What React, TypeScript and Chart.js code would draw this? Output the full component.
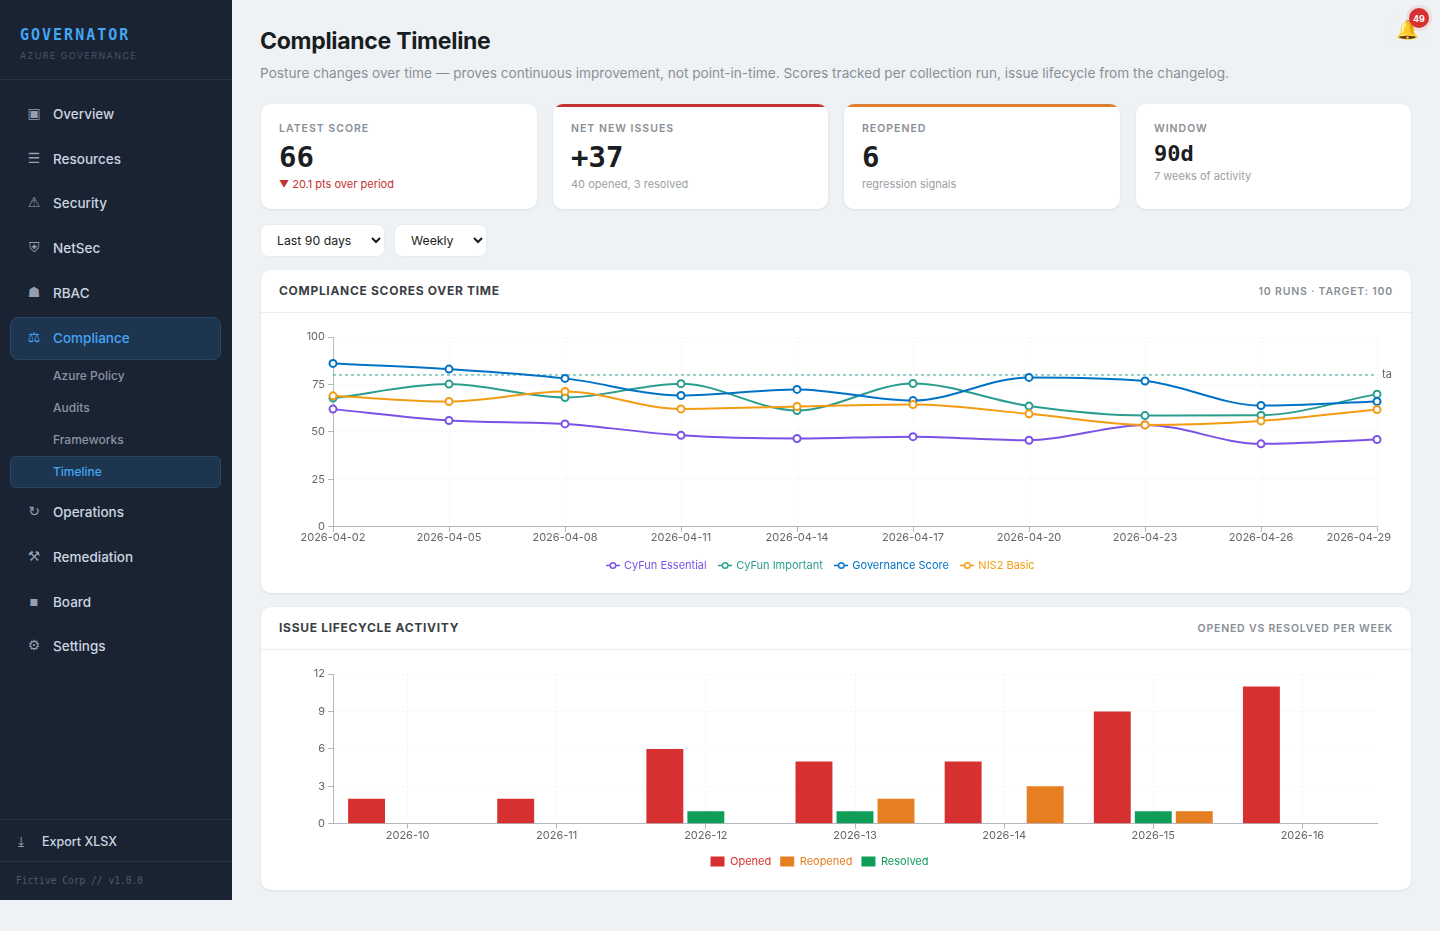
import React, { useEffect, useRef } from 'react';
import { Chart, registerables } from 'chart.js';

Chart.register(...registerables);

const runDates = ['2026-04-02', '2026-04-05', '2026-04-08', '2026-04-11', '2026-04-14', '2026-04-17', '2026-04-20', '2026-04-23', '2026-04-26', '2026-04-29'];
const cyfunEssential = [62, 56, 54.2, 48.2, 46.5, 47.5, 45.6, 53.7, 43.7, 46];
const cyfunImportant = [67.8, 75.2, 68.1, 75.4, 61.3, 75.5, 63.6, 58.6, 58.8, 69.9];
const governanceScore = [86.1, 83.1, 78.2, 69.2, 72.4, 66.5, 78.7, 76.8, 63.9, 66];
const nis2Basic = [69, 66, 71.3, 62.1, 63.4, 64.4, 59.5, 53.7, 55.8, 61.8];
const targetLine = [80, 80, 80, 80, 80, 80, 80, 80, 80, 80];
const scoreTicks = [0, 25, 50, 75, 100];

const weeks = ['2026-10', '2026-11', '2026-12', '2026-13', '2026-14', '2026-15', '2026-16'];
const opened = [2, 2, 6, 5, 5, 9, 11];
const resolved = [0, 0, 1, 1, 0, 1, 0];
const reopened = [0, 0, 0, 2, 3, 1, 0];

const navTop = [
  { icon: '▣', label: 'Overview', y: 114 },
  { icon: '☰', label: 'Resources', y: 159 },
  { icon: '⚠', label: 'Security', y: 203 },
  { icon: '⛨', label: 'NetSec', y: 248 },
  { icon: '☗', label: 'RBAC', y: 293 },
];
const navSub = [
  { label: 'Azure Policy', y: 376 },
  { label: 'Audits', y: 408 },
  { label: 'Frameworks', y: 440 },
];
const navBottom = [
  { icon: '↻', label: 'Operations', y: 512 },
  { icon: '⚒', label: 'Remediation', y: 557 },
  { icon: '▪', label: 'Board', y: 602 },
  { icon: '⚙', label: 'Settings', y: 646 },
];

const INTER = 'Inter, sans-serif';
const MONO = '"DejaVu Sans Mono", monospace';
const PURPLE = '#7b52e6';
const TEAL = '#2a9d8f';
const BLUE = '#0072c6';
const AMBER = '#f39c12';
const RED = '#d63031';
const ORANGE = '#e67e22';
const GREEN = '#0f9d58';
const AXIS = '#b4b8be';
const GRID = '#f3f5f7';
const TICK_TEXT = '#666';

// icon with line through a hollow dot, for the line chart legend
function lineIcon(color: string) {
  const c = document.createElement('canvas');
  c.width = 14;
  c.height = 9;
  const ctx = c.getContext('2d')!;
  ctx.strokeStyle = color;
  ctx.lineWidth = 1.5;
  ctx.beginPath();
  ctx.moveTo(0, 4.5);
  ctx.lineTo(14, 4.5);
  ctx.stroke();
  ctx.fillStyle = '#fff';
  ctx.beginPath();
  ctx.arc(7, 4.5, 2.75, 0, Math.PI * 2);
  ctx.fill();
  ctx.stroke();
  return c;
}

const tickFont = { family: 'Inter', size: 11 };

function axisGrid(tickLength = 5) {
  return { color: GRID, tickColor: AXIS, tickLength, offset: false };
}

const axisBorder = { color: AXIS, dash: [2, 2], width: 1 };

const fixY = (width: number) => (scale: any) => {
  scale.width = width;
  scale.paddingTop = 0;
  scale.paddingBottom = 0;
};

const fixX = (extra: number) => (scale: any) => {
  scale.paddingLeft = 0;
  scale.paddingRight = 0;
  scale.height += extra;
};

const SCORE_LEFT = 265;
const BARS_LEFT = 262;
const CANVAS_RIGHT = 1393;

const lineOverlay = {
  id: 'lineOverlay',
  beforeDraw(chart: any) {
    // last date label stays inside the canvas, right aligned
    const items = chart.scales.x.getLabelItems(chart.chartArea);
    const last = items[items.length - 1];
    last.options.textAlign = 'right';
    last.options.translation[0] = chart.width - 2;
  },
  afterDraw(chart: any) {
    const { ctx, scales } = chart;
    ctx.save();
    ctx.font = '11px Inter';
    ctx.fillStyle = TICK_TEXT;
    ctx.textBaseline = 'middle';
    ctx.fillText('ta', chart.chartArea.right + 5, scales.y.getPixelForValue(targetLine[0]));
    ctx.restore();
  },
};

const ScoreChart = () => {
  const canvasRef = useRef<HTMLCanvasElement | null>(null);

  useEffect(() => {
    if (!canvasRef.current) return;
    const series = [
      { label: 'CyFun Essential', data: cyfunEssential, color: PURPLE },
      { label: 'CyFun Important', data: cyfunImportant, color: TEAL },
      { label: 'Governance Score', data: governanceScore, color: BLUE },
      { label: 'NIS2 Basic', data: nis2Basic, color: AMBER },
    ];
    const chart = new Chart(canvasRef.current, {
      type: 'line',
      data: {
        labels: runDates,
        datasets: [
          ...series.map((s, i) => ({
            label: s.label,
            data: s.data,
            borderColor: s.color,
            backgroundColor: '#fff',
            borderWidth: 2,
            pointRadius: 3.5,
            pointBorderWidth: 2,
            pointBackgroundColor: '#fff',
            pointBorderColor: s.color,
            cubicInterpolationMode: 'monotone',
            order: series.length - i,
          })),
          {
            label: 'target',
            data: targetLine,
            borderColor: TEAL,
            borderWidth: 1,
            borderDash: [3, 3],
            pointRadius: 0,
            tension: 0,
            order: 10,
          },
        ],
      },
      options: {
        responsive: false,
        animation: false,
        layout: { padding: { top: 15, right: 16, bottom: 3, left: 0 } },
        scales: {
          x: {
            grid: axisGrid(),
            border: axisBorder,
            afterFit: fixX(4),
            ticks: { color: TICK_TEXT, font: tickFont, autoSkip: false, maxRotation: 0, padding: -1 },
          },
          y: {
            min: 0,
            max: 100,
            grid: axisGrid(),
            border: axisBorder,
            afterFit: fixY(333 - SCORE_LEFT),
            afterBuildTicks: (scale: any) => {
              scale.ticks = scoreTicks.map((value) => ({ value }));
            },
            ticks: { color: TICK_TEXT, font: tickFont, padding: 3 },
          },
        },
        plugins: {
          tooltip: { enabled: false },
          legend: {
            position: 'bottom',
            labels: {
              usePointStyle: true,
              pointStyleWidth: 11,
              padding: 13,
              font: tickFont,
              generateLabels: () =>
                series.map((s, i) => ({
                  text: s.label,
                  fontColor: s.color,
                  pointStyle: lineIcon(s.color),
                  datasetIndex: i,
                  lineWidth: 0,
                })),
            },
          },
        },
      } as any,
      plugins: [lineOverlay],
    });
    return () => chart.destroy();
  }, []);

  return (
    <canvas
      ref={canvasRef}
      width={CANVAS_RIGHT - SCORE_LEFT}
      height={262}
      style={{ position: 'absolute', left: SCORE_LEFT, top: 322 }}
    />
  );
};

const LifecycleChart = () => {
  const canvasRef = useRef<HTMLCanvasElement | null>(null);

  useEffect(() => {
    if (!canvasRef.current) return;
    const chart = new Chart(canvasRef.current, {
      type: 'bar',
      data: {
        labels: weeks,
        datasets: [
          { label: 'Opened', data: opened, backgroundColor: RED },
          { label: 'Resolved', data: resolved, backgroundColor: GREEN },
          { label: 'Reopened', data: reopened, backgroundColor: ORANGE },
        ],
      },
      options: {
        responsive: false,
        animation: false,
        layout: { padding: { top: 15, right: 16, bottom: 4, left: 0 } },
        datasets: { bar: { categoryPercentage: 0.825, barPercentage: 0.9 } },
        scales: {
          x: {
            grid: axisGrid(),
            border: axisBorder,
            afterFit: fixX(5),
            ticks: { color: TICK_TEXT, font: tickFont, maxRotation: 0, padding: 0 },
          },
          y: {
            min: 0,
            max: 12,
            grid: axisGrid(),
            border: axisBorder,
            afterFit: fixY(333 - BARS_LEFT),
            ticks: { color: TICK_TEXT, font: tickFont, stepSize: 3, padding: 3 },
          },
        },
        plugins: {
          tooltip: { enabled: false },
          legend: {
            position: 'bottom',
            labels: {
              boxWidth: 14,
              boxHeight: 10,
              padding: 9,
              font: tickFont,
              sort: (a: any, b: any) => a.text.localeCompare(b.text),
              generateLabels: (c: any) =>
                c.data.datasets.map((d: any, i: number) => ({
                  text: d.label,
                  fontColor: d.backgroundColor,
                  fillStyle: d.backgroundColor,
                  strokeStyle: d.backgroundColor,
                  lineWidth: 0,
                  datasetIndex: i,
                })),
            },
          },
        },
      } as any,
    });
    return () => chart.destroy();
  }, []);

  return (
    <canvas
      ref={canvasRef}
      width={CANVAS_RIGHT - BARS_LEFT}
      height={222}
      style={{ position: 'absolute', left: BARS_LEFT, top: 659 }}
    />
  );
};

// absolutely placed text, y is the vertical centre
const T = ({ x, y, right, style, children }: any) => (
  <div
    style={{
      position: 'absolute',
      left: x,
      right,
      top: y,
      transform: 'translateY(-50%)',
      whiteSpace: 'nowrap',
      ...style,
    }}
  >
    {children}
  </div>
);

const Box = ({ x, y, w, h, style, children }: any) => (
  <div style={{ position: 'absolute', left: x, top: y, width: w, height: h, boxSizing: 'border-box', ...style }}>{children}</div>
);

const NavItem = ({ icon, label, y, color = '#cbd5e0', iconColor = '#94a0b0' }: any) => (
  <>
    <T x={24} y={y - 1} style={{ width: 20, textAlign: 'center', fontFamily: '"DejaVu Sans"', fontSize: 14, color: iconColor }}>
      {icon}
    </T>
    <T x={53} y={y} style={{ fontSize: 13.5, fontWeight: 500, color }}>
      {label}
    </T>
  </>
);

const Sidebar = () => (
  <Box x={0} y={0} w={232} h={900} style={{ background: '#1a2332' }}>
    <T x={20} y={35} style={{ fontFamily: MONO, fontWeight: 700, fontSize: 15, letterSpacing: 2, color: '#42a5f5' }}>
      GOVERNATOR
    </T>
    <T x={20} y={54.5} style={{ fontSize: 9, letterSpacing: 1.4, color: '#4a5568' }}>
      AZURE GOVERNANCE
    </T>
    <Box x={0} y={79} w={232} h={1} style={{ background: '#283343' }} />
    {navTop.map((n) => (
      <NavItem key={n.label} {...n} />
    ))}
    <Box x={10} y={317} w={211} h={43} style={{ background: '#1e3550', border: '1px solid #28466a', borderRadius: 8 }} />
    <NavItem icon="⚖" label="Compliance" y={338} color="#42a5f5" iconColor="#42a5f5" />
    {navSub.map((n) => (
      <T key={n.label} x={53} y={n.y - 1} style={{ fontSize: 12, fontWeight: 500, color: '#8a94a3' }}>
        {n.label}
      </T>
    ))}
    <Box x={10} y={456} w={211} h={32} style={{ background: '#1e3550', border: '1px solid #28466a', borderRadius: 6 }} />
    <T x={53} y={471} style={{ fontSize: 12, fontWeight: 500, color: '#42a5f5' }}>
      Timeline
    </T>
    {navBottom.map((n) => (
      <NavItem key={n.label} {...n} />
    ))}
    <Box x={0} y={819} w={232} h={1} style={{ background: '#283343' }} />
    <T x={18} y={841} style={{ fontFamily: '"DejaVu Sans"', fontSize: 14, color: '#94a0b0' }}>
      ⤓
    </T>
    <T x={42} y={840.5} style={{ fontSize: 12.5, fontWeight: 500, color: '#cbd5e0' }}>
      Export XLSX
    </T>
    <Box x={0} y={861} w={232} h={1} style={{ background: '#283343' }} />
    <T x={16} y={880} style={{ fontFamily: MONO, fontSize: 9.6, color: '#4f5a6b' }}>
      Fictive Corp // v1.0.0
    </T>
  </Box>
);

const cardStyle = {
  background: '#fff',
  borderRadius: 10,
  boxShadow: '0 1px 3px rgba(0,0,0,0.08)',
  overflow: 'hidden',
};

const Kpi = ({ x, w, top, label, value, valueSize = 29, valueY = 157, sub, subY = 184, subColor = '#9a9fa6' }: any) => (
  <>
    <Box x={x} y={104} w={w} h={105} style={cardStyle}>
      {top && <div style={{ height: 3, background: top }} />}
    </Box>
    <T x={x + 18} y={128} style={{ fontSize: 10.5, fontWeight: 600, letterSpacing: 1, color: '#8a8f96' }}>
      {label}
    </T>
    <T x={x + 18} y={valueY} style={{ fontFamily: MONO, fontWeight: 700, fontSize: valueSize, color: '#1a1d21' }}>
      {value}
    </T>
    <T x={x + 18} y={subY} style={{ fontSize: 11, color: subColor }}>
      {sub}
    </T>
  </>
);

const selectStyle = {
  position: 'absolute',
  top: 224,
  height: 33,
  padding: '0 6px 0 12px',
  fontFamily: INTER,
  fontSize: 12.3,
  color: '#1a1d21',
  background: '#fff',
  border: '1px solid #e8ebef',
  borderRadius: 8,
} as React.CSSProperties;

const ChartCard = ({ y, h, title, note }: any) => (
  <Box x={261} y={y} w={1150} h={h} style={cardStyle}>
    <Box x={0} y={42} w={1150} h={1} style={{ background: '#eceff2' }} />
    <T x={18} y={20} style={{ fontSize: 12, fontWeight: 700, letterSpacing: 0.7, color: '#3a3f46' }}>
      {title}
    </T>
    <T right={18} y={21} style={{ fontSize: 10.5, fontWeight: 600, letterSpacing: 0.8, color: '#8a8f96' }}>
      {note}
    </T>
  </Box>
);

export default function App() {
  return (
    <div style={{ position: 'fixed', inset: 0, background: '#eff2f5', fontFamily: INTER, overflow: 'hidden' }}>
      <Sidebar />
      <T x={260} y={41} style={{ fontSize: 23, fontWeight: 700, letterSpacing: -0.3, color: '#1a1d21' }}>
        Compliance Timeline
      </T>
      <T x={260} y={72.5} style={{ fontSize: 13.64, color: '#8a8f96' }}>
        Posture changes over time — proves continuous improvement, not point-in-time. Scores tracked per collection run, issue lifecycle from the changelog.
      </T>

      <Box x={1391} y={13} w={35} h={34} style={{ border: '1px solid #eceff2', borderRadius: 8 }} />
      <T x={1396} y={30} style={{ fontSize: 18.5, fontFamily: '"Noto Color Emoji", sans-serif' }}>
        🔔
      </T>
      <Box x={1409} y={8} w={20} h={20} style={{ background: RED, borderRadius: '50%', boxShadow: '0 0 0 3px rgba(214,48,49,0.1)' }} />
      <T x={1409} y={18} style={{ width: 20, textAlign: 'center', fontSize: 9, fontWeight: 700, color: '#fff' }}>
        49
      </T>

      <Kpi
        x={261}
        w={276}
        label="LATEST SCORE"
        value="66"
        sub={
          <span style={{ color: '#c53030' }}>
            <span style={{ fontSize: 10 }}>▼</span> 20.1 pts over period
          </span>
        }
      />
      <Kpi x={553} w={275} top="#c53030" label="NET NEW ISSUES" value="+37" sub="40 opened, 3 resolved" />
      <Kpi x={844} w={276} top="#dd7f2e" label="REOPENED" value="6" sub="regression signals" />
      <Kpi x={1136} w={275} label="WINDOW" value="90d" valueSize={22} valueY={153} sub="7 weeks of activity" subY={176} />

      <select defaultValue="90" style={{ ...selectStyle, left: 260, width: 125 }}>
        <option value="30">Last 30 days</option>
        <option value="90">Last 90 days</option>
      </select>
      <select defaultValue="weekly" style={{ ...selectStyle, left: 394, width: 93 }}>
        <option value="weekly">Weekly</option>
        <option value="daily">Daily</option>
      </select>

      <ChartCard y={270} h={323} title="COMPLIANCE SCORES OVER TIME" note="10 RUNS · TARGET: 100" />
      <ChartCard y={607} h={283} title="ISSUE LIFECYCLE ACTIVITY" note="OPENED VS RESOLVED PER WEEK" />
      <ScoreChart />
      <LifecycleChart />
    </div>
  );
}
